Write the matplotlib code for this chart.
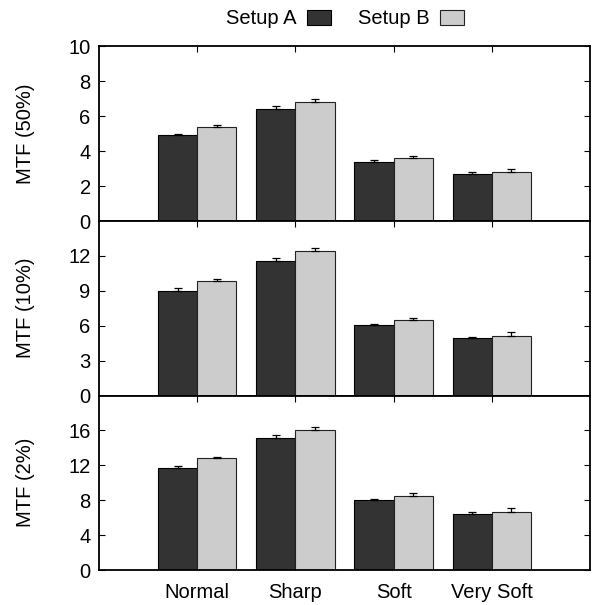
import matplotlib
matplotlib.use("Agg")
import matplotlib.pyplot as plt
import numpy as np

categories = ["Normal", "Sharp", "Soft", "Very Soft"]
series = ["Setup A", "Setup B"]

mtf50_a = [4.9, 6.4, 3.4, 2.7]
mtf50_b = [5.4, 6.8, 3.6, 2.8]
mtf50_a_err = [0.1, 0.2, 0.08, 0.1]
mtf50_b_err = [0.09, 0.2, 0.09, 0.2]

mtf10_a = [9.0, 11.6, 6.1, 4.9]
mtf10_b = [9.8, 12.4, 6.5, 5.1]
mtf10_a_err = [0.2, 0.25, 0.05, 0.15]
mtf10_b_err = [0.2, 0.3, 0.2, 0.4]

mtf2_a = [11.7, 15.1, 8.0, 6.4]
mtf2_b = [12.8, 16.0, 8.5, 6.6]
mtf2_a_err = [0.2, 0.4, 0.15, 0.3]
mtf2_b_err = [0.2, 0.4, 0.3, 0.5]

panel_labels = ["MTF (50%)", "MTF (10%)", "MTF (2%)"]
panel_ylims = [10, 15, 20]
panel_yticks = [[0, 2, 4, 6, 8, 10], [0, 3, 6, 9, 12], [0, 4, 8, 12, 16]]

panels = [
    (mtf50_a, mtf50_b, mtf50_a_err, mtf50_b_err),
    (mtf10_a, mtf10_b, mtf10_a_err, mtf10_b_err),
    (mtf2_a, mtf2_b, mtf2_a_err, mtf2_b_err),
]

plt.rcParams['font.family'] = ['Liberation Sans', 'DejaVu Sans']
FS = 14.5

W, H = 595, 605
fig = plt.figure(figsize=(W / 100, H / 100), dpi=100)

left, right = 99, 590
bounds = [(46, 221), (221, 395.5), (395.5, 570)]
color_a = "#333333"
color_b = "#cccccc"
width = 0.4
x = np.arange(len(categories))

for i, ((top, bot), (a, b, ea, eb)) in enumerate(zip(bounds, panels)):
    ax = fig.add_axes([left / W, 1 - bot / H, (right - left) / W, (bot - top) / H])
    ba = ax.bar(x - width / 2, a, width, color=color_a, edgecolor="black", linewidth=0.8, zorder=2, label=series[0])
    bb = ax.bar(x + width / 2, b, width, color=color_b, edgecolor="#222222", linewidth=0.8, zorder=2, label=series[1])
    ax.errorbar(x - width / 2, a, yerr=[np.zeros(len(a)), ea], fmt="none", ecolor="black",
                elinewidth=0.9, capsize=3.2, capthick=0.9, zorder=3)
    ax.errorbar(x + width / 2, b, yerr=[np.zeros(len(b)), eb], fmt="none", ecolor="black",
                elinewidth=0.9, capsize=3.2, capthick=0.9, zorder=3)
    ax.set_xlim(-1, 4)
    ax.set_ylim(0, panel_ylims[i])
    ax.set_yticks(panel_yticks[i])
    ax.set_xticks(x)
    if i == 2:
        ax.set_xticklabels(categories, fontsize=FS)
    else:
        ax.set_xticklabels([])
    ax.tick_params(axis="both", direction="in", top=True, right=True, length=4, width=0.8,
                   labelsize=FS, pad=6)
    ax.tick_params(axis="x", pad=9)
    for s in ax.spines.values():
        s.set_linewidth(1.3)
    ax.set_ylabel(panel_labels[i], fontsize=FS)
    ax.yaxis.set_label_coords(-0.131, 0.5)
    if i == 0:
        handles = [ba, bb]

fig.legend(handles, series, loc="center", bbox_to_anchor=(345 / W, 1 - 19 / H), ncol=2,
           frameon=False, markerfirst=False, fontsize=FS, handlelength=1.2,
           handleheight=0.75, handletextpad=0.55, columnspacing=1.3)

fig.savefig("out.png", dpi=100)
